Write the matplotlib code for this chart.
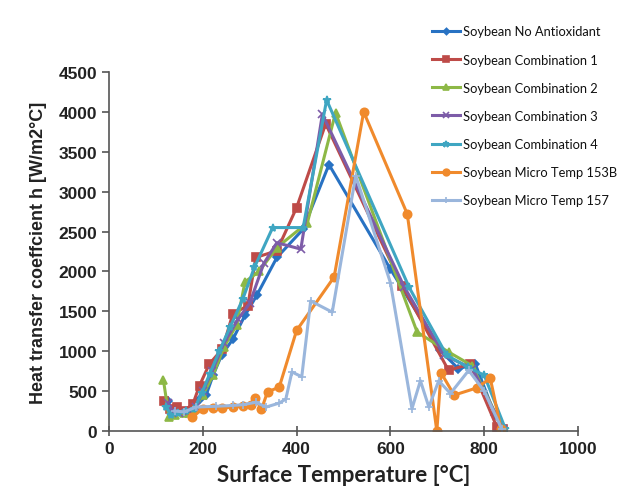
import matplotlib
matplotlib.use("Agg")
import matplotlib.pyplot as plt

labels = ["Soybean No Antioxidant", "Soybean Combination 1", "Soybean Combination 2",
          "Soybean Combination 3", "Soybean Combination 4", "Soybean Micro Temp 153B",
          "Soybean Micro Temp 157"]

t_noanti = [125, 135, 150, 165, 180, 193, 207, 222, 240, 264, 290, 315, 358, 414, 469, 600, 706, 745, 781, 823, 840]
h_noanti = [380, 230, 260, 230, 250, 400, 450, 700, 950, 1150, 1450, 1700, 2175, 2530, 3340, 2030, 1010, 780, 840, 200, 30]

t_comb1 = [118, 130, 145, 160, 179, 193, 214, 242, 264, 296, 313, 358, 400, 462, 625, 724, 770, 827, 840]
h_comb1 = [380, 280, 300, 250, 340, 570, 840, 1030, 1470, 1570, 2175, 2260, 2800, 3850, 1820, 760, 840, 50, 20]

t_comb2 = [116, 128, 140, 160, 180, 200, 222, 245, 272, 290, 320, 358, 423, 483, 657, 724, 774, 840]
h_comb2 = [640, 170, 200, 230, 260, 450, 700, 1050, 1330, 1870, 2000, 2300, 2610, 3990, 1240, 990, 820, 30]

t_comb3 = [125, 135, 150, 170, 185, 200, 220, 245, 275, 300, 330, 358, 409, 455, 630, 715, 775, 840]
h_comb3 = [350, 250, 230, 250, 300, 500, 750, 1100, 1400, 1600, 2100, 2360, 2280, 3970, 1800, 950, 780, 30]

t_comb4 = [122, 133, 148, 165, 182, 198, 215, 235, 258, 285, 310, 349, 414, 464, 640, 720, 765, 800, 845]
h_comb4 = [300, 200, 220, 250, 280, 480, 720, 1000, 1300, 1650, 2050, 2550, 2550, 4150, 1800, 950, 800, 700, 30]

t_mt153 = [177, 200, 221, 242, 264, 285, 303, 312, 325, 338, 363, 400, 480, 543, 636, 699, 708, 736, 784, 813, 836]
h_mt153 = [170, 280, 290, 290, 300, 310, 320, 410, 270, 490, 550, 1260, 1930, 4000, 2720, 0, 730, 450, 540, 660, 20]

t_mt157 = [140, 160, 186, 228, 264, 285, 313, 335, 363, 377, 390, 411, 430, 476, 526, 600, 646, 664, 682, 703, 728, 767, 800, 837]
h_mt157 = [250, 240, 300, 310, 320, 330, 360, 300, 350, 400, 740, 680, 1630, 1490, 3200, 1860, 280, 630, 300, 630, 470, 760, 500, 30]

xs = [t_noanti, t_comb1, t_comb2, t_comb3, t_comb4, t_mt153, t_mt157]
ys = [h_noanti, h_comb1, h_comb2, h_comb3, h_comb4, h_mt153, h_mt157]
colors = ["#2872C3", "#BE4B48", "#8DB846", "#7D5CA8", "#3FA6C2", "#F08A2C", "#9AB6DC"]
markers = ["D", "s", "^", "x", "*", "o", "+"]
msizes = [4, 6, 6, 6, 6, 6, 6]

fig = plt.figure(figsize=(6.29, 5.02), dpi=100)
ax = fig.add_axes([109/629, 1-432/502, (578-109)/629, (432-73)/502])

handles = []
for x, y, c, m, ms, lab in zip(xs, ys, colors, markers, msizes, labels):
    ln, = ax.plot(x, y, color=c, marker=m, markersize=ms, linewidth=2.2, label=lab,
                  markeredgewidth=1.2)
    handles.append(ln)

ax.set_xlim(0, 1000)
ax.set_ylim(0, 4500)
ax.set_xticks(range(0, 1001, 200))
ax.set_yticks(range(0, 4501, 500))
for s in ["top", "right"]:
    ax.spines[s].set_visible(False)
for s in ["left", "bottom"]:
    ax.spines[s].set_color("#555555")
    ax.spines[s].set_linewidth(1.2)
ax.tick_params(axis="x", direction="inout", length=7, color="#555555", width=1.2)
ax.tick_params(axis="y", direction="out", length=5, color="#555555", width=1.2)
for lab in ax.get_xticklabels() + ax.get_yticklabels():
    lab.set_fontfamily("Liberation Sans")
    lab.set_fontweight("bold")
    lab.set_fontsize(12.5)
    lab.set_color("#222222")

ax.set_xlabel("Surface Temperature [°C]", fontfamily="Lato", fontweight="bold",
              fontsize=16, color="#222222", labelpad=6)
ax.set_ylabel("Heat transfer coeffcient h [W/m2°C]", fontfamily="Liberation Sans",
              fontweight="bold", fontsize=13, color="#222222", labelpad=8)

leg = fig.legend(handles=handles, loc="upper left", bbox_to_anchor=(426/629, 1-20/502),
                 frameon=False, prop={"family": "Lato", "size": 9.3},
                 handlelength=2.1, handletextpad=0.3, labelspacing=1.25, borderpad=0,
                 markerscale=0.8)
for t in leg.get_texts():
    t.set_color("#111111")

fig.savefig("out.png", dpi=100)
